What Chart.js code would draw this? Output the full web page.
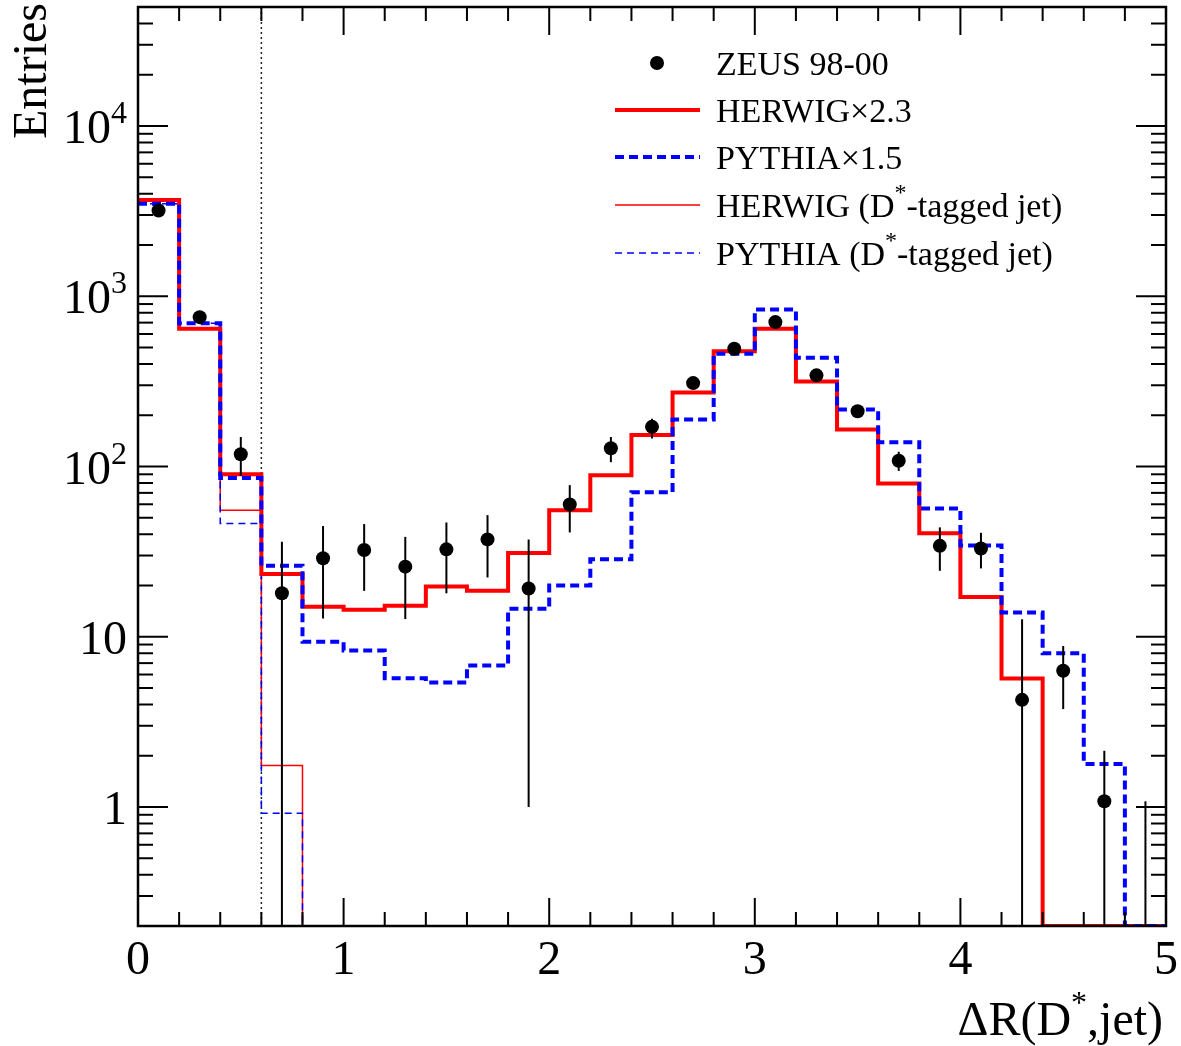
<!DOCTYPE html>
<html>
<head>
<meta charset="utf-8">
<script src="https://cdn.jsdelivr.net/npm/chart.js@4.4.0/dist/chart.umd.min.js"></script>
<style>
  html, body { margin: 0; padding: 0; background: #fff; }
  #wrap { width: 1181px; height: 1046px; }
</style>
</head>
<body>
<div id="wrap"><canvas id="grafico" width="1181" height="1046"></canvas></div>
<script>
// =================== DATOS ===================
// bordes de los bins (0 .. 5, paso 0.2)
const binEdges = [0, 0.2, 0.4, 0.6, 0.8, 1.0, 1.2, 1.4, 1.6, 1.8, 2.0, 2.2, 2.4,
  2.6, 2.8, 3.0, 3.2, 3.4, 3.6, 3.8, 4.0, 4.2, 4.4, 4.6, 4.8, 5.0];
const binCenters = [0.1, 0.3, 0.5, 0.7, 0.9, 1.1, 1.3, 1.5, 1.7, 1.9, 2.1, 2.3, 2.5,
  2.7, 2.9, 3.1, 3.3, 3.5, 3.7, 3.9, 4.1, 4.3, 4.5, 4.7, 4.9];

// ZEUS 98-00 (puntos con errores)
const zeusVal = [3190, 754, 118, 18.0, 28.9, 32.3, 25.8, 32.6, 37.3, 19.2, 59.8, 128, 171,
  309, 492, 705, 343, 211, 108, 34.2, 33.0, 4.26, 6.32, 1.08, 0];
const zeusErrUp = [55, 28, 31, 18.1, 15.8, 13.6, 12.8, 14.3, 14.5, 18.1, 17.9, 21, 20,
  22, 28, 35, 25, 18, 14, 9.7, 7.8, 8.4, 2.5, 1.06, 1.08];
const zeusErrDn = [55, 28, 30, 18.0, 16.1, 13.7, 13.1, 14.6, 15.0, 18.2, 18.8, 22, 25,
  22, 28, 35, 25, 18, 13.8, 9.8, 7.8, 4.26, 2.56, 1.08, 0];

// HERWIG x2.3 y PYTHIA x1.5
const herwigVal = [3680, 645, 90.1, 23.4, 15.0, 14.4, 15.2, 19.7, 18.6, 31.0, 55.4, 88.9, 153,
  272, 476, 645, 316, 165, 79.5, 40.5, 17.1, 5.68, 0, 0, 0];
const pythiaVal = [3490, 695, 85.7, 26.1, 9.36, 8.29, 5.71, 5.38, 6.77, 14.6, 20.0, 28.5, 70.7,
  189, 460, 837, 436, 216, 139, 56.7, 34.4, 13.9, 8.0, 1.79, 0];

// D*-tagged jet
const herwigTagVal = [3680, 645, 55.4, 1.75, 0, 0, 0, 0, 0, 0, 0, 0, 0,
  0, 0, 0, 0, 0, 0, 0, 0, 0, 0, 0, 0];
const pythiaTagVal = [3490, 695, 46.3, 0.92, 0, 0, 0, 0, 0, 0, 0, 0, 0,
  0, 0, 0, 0, 0, 0, 0, 0, 0, 0, 0, 0];

const xTicks = [0, 1, 2, 3, 4, 5];
const yTickLabels = [
  { v: 1, base: '1', sup: '' },
  { v: 10, base: '10', sup: '' },
  { v: 100, base: '10', sup: '2' },
  { v: 1000, base: '10', sup: '3' },
  { v: 10000, base: '10', sup: '4' }
];
const corteDR = 0.6;

const Y_MIN = 0.2, Y_MAX = 50000;
const FUENTE = '"Liberation Serif", "DejaVu Serif", serif';

// =================== UTILIDADES ===================
/** Convierte un histograma a puntos escalonados; los bins vacíos se pegan al fondo como en ROOT */
function aEscalones(valores) {
  const pts = valores.map((v, i) => ({ x: binEdges[i], y: v > 0 ? v : Y_MIN }));
  const ultimo = valores[valores.length - 1];
  pts.push({ x: binEdges[binEdges.length - 1], y: ultimo > 0 ? ultimo : Y_MIN });
  return pts;
}

function linea(ctx, x1, y1, x2, y2) {
  ctx.beginPath();
  ctx.moveTo(x1, y1);
  ctx.lineTo(x2, y2);
  ctx.stroke();
}

// texto con superíndice: partes = [[texto, esSup], ...]
function anchoPartes(ctx, partes, tam, tamSup) {
  let w = 0;
  partes.forEach(([t, sup]) => {
    ctx.font = `${sup ? tamSup : tam}px ${FUENTE}`;
    w += ctx.measureText(t).width;
  });
  return w;
}
function textoPartes(ctx, partes, x, y, tam, tamSup, subida) {
  ctx.textAlign = 'left';
  ctx.textBaseline = 'alphabetic';
  partes.forEach(([t, sup]) => {
    ctx.font = `${sup ? tamSup : tam}px ${FUENTE}`;
    ctx.fillText(t, x, sup ? y - subida : y);
    x += ctx.measureText(t).width;
  });
}

// =================== PLUGINS ===================
const marcoRoot = {
  id: 'marcoRoot',
  beforeDatasetsDraw(chart) {
    const ctx = chart.ctx;
    const { top, bottom } = chart.chartArea;
    const px = chart.scales.x.getPixelForValue(corteDR);
    ctx.save();
    ctx.strokeStyle = '#222';
    ctx.lineWidth = 1.5;
    ctx.setLineDash([2, 3]);
    linea(ctx, px, top, px, bottom);
    ctx.restore();
  },
  afterDatasetsDraw(chart) {
    // barras de error de ZEUS
    const ctx = chart.ctx;
    const xs = chart.scales.x, ys = chart.scales.y;
    const { top, bottom } = chart.chartArea;
    ctx.save();
    ctx.strokeStyle = '#000';
    ctx.lineWidth = 2;
    binCenters.forEach((c, i) => {
      const hi = zeusVal[i] + zeusErrUp[i];
      const lo = zeusVal[i] - zeusErrDn[i];
      const px = xs.getPixelForValue(c);
      const yHi = Math.max(top, ys.getPixelForValue(hi));
      const yLo = lo > Y_MIN ? ys.getPixelForValue(lo) : bottom;
      linea(ctx, px, yHi, px, yLo);
    });
    ctx.restore();
  },
  afterDraw(chart) {
    const ctx = chart.ctx;
    const xs = chart.scales.x, ys = chart.scales.y;
    const { left, right, top, bottom } = chart.chartArea;
    ctx.save();
    ctx.strokeStyle = '#000';
    ctx.fillStyle = '#000';
    ctx.setLineDash([]);

    // ticks eje x (abajo y arriba)
    ctx.lineWidth = 2;
    for (let i = 0; i <= 25; i++) {
      const px = xs.getPixelForValue(binEdges[i]);
      const len = i % 5 === 0 ? 28 : 14;
      linea(ctx, px, bottom, px, bottom - len);
      linea(ctx, px, top, px, top + len);
    }
    // ticks eje y log (izquierda y derecha)
    for (let n = -1; n <= 4; n++) {
      for (let k = 1; k <= 9; k++) {
        const v = k * Math.pow(10, n);
        if (v < Y_MIN || v > Y_MAX) continue;
        const py = ys.getPixelForValue(v);
        const len = k === 1 ? 30 : 15;
        linea(ctx, left, py, left + len, py);
        linea(ctx, right, py, right - len, py);
      }
    }
    // marco
    ctx.lineWidth = 2.5;
    ctx.strokeRect(left, top, right - left, bottom - top);

    // etiquetas eje y
    yTickLabels.forEach(t => {
      const py = ys.getPixelForValue(t.v) + 17;
      const partes = t.sup ? [[t.base, false], [t.sup, true]] : [[t.base, false]];
      const w = anchoPartes(ctx, partes, 48, 32);
      textoPartes(ctx, partes, 127 - w, py, 48, 32, 20);
    });
    // etiquetas eje x
    ctx.font = `48px ${FUENTE}`;
    ctx.textAlign = 'center';
    ctx.textBaseline = 'alphabetic';
    xTicks.forEach(v => {
      ctx.fillText(String(v), xs.getPixelForValue(v), 974);
    });

    // título eje x
    const tituloX = [['ΔR(D', false], ['*', true], [',jet)', false]];
    const wx = anchoPartes(ctx, tituloX, 48, 32);
    textoPartes(ctx, tituloX, 1163 - wx, 1035, 48, 32, 22);

    // título eje y
    ctx.save();
    ctx.translate(46, 3);
    ctx.rotate(-Math.PI / 2);
    ctx.font = `48px ${FUENTE}`;
    ctx.textAlign = 'right';
    ctx.textBaseline = 'alphabetic';
    ctx.fillText('Entries', 0, 0);
    ctx.restore();

    // leyenda
    const filas = [
      { y: 63, tipo: 'punto', partes: [['ZEUS 98-00', false]] },
      { y: 110, tipo: 'linea', color: '#ff0000', ancho: 4, dash: [], partes: [['HERWIG×2.3', false]] },
      { y: 157, tipo: 'linea', color: '#0000ff', ancho: 4, dash: [9, 5], partes: [['PYTHIA×1.5', false]] },
      { y: 205, tipo: 'linea', color: '#ff0000', ancho: 1.5, dash: [], partes: [['HERWIG (D', false], ['*', true], ['-tagged jet)', false]] },
      { y: 253, tipo: 'linea', color: '#0000ff', ancho: 1.5, dash: [7, 5], partes: [['PYTHIA (D', false], ['*', true], ['-tagged jet)', false]] }
    ];
    filas.forEach(f => {
      if (f.tipo === 'punto') {
        ctx.beginPath();
        ctx.arc(657, f.y, 7, 0, Math.PI * 2);
        ctx.fill();
      } else {
        ctx.save();
        ctx.strokeStyle = f.color;
        ctx.lineWidth = f.ancho;
        ctx.setLineDash(f.dash);
        linea(ctx, 615, f.y, 700, f.y);
        ctx.restore();
      }
      textoPartes(ctx, f.partes, 716, f.y + 12, 34, 24, 17);
    });
    ctx.restore();
  }
};

// =================== GRÁFICO ===================
document.addEventListener('DOMContentLoaded', () => {
  const canvas = document.getElementById('grafico');

  const puntosZeus = binCenters.map((c, i) => ({ x: c, y: zeusVal[i] > 0 ? zeusVal[i] : null }));

  new Chart(canvas, {
    type: 'line',
    data: {
      datasets: [
        {
          type: 'scatter',
          label: 'ZEUS 98-00',
          data: puntosZeus,
          pointRadius: 7,
          pointHoverRadius: 7,
          pointBackgroundColor: '#000',
          pointBorderWidth: 0,
          showLine: false,
          order: 0
        },
        {
          label: 'PYTHIA×1.5',
          data: aEscalones(pythiaVal),
          stepped: 'before',
          borderColor: '#0000ff',
          borderWidth: 4,
          borderDash: [9, 5],
          pointRadius: 0,
          fill: false,
          order: 1
        },
        {
          label: 'HERWIG×2.3',
          data: aEscalones(herwigVal),
          stepped: 'before',
          borderColor: '#ff0000',
          borderWidth: 4,
          pointRadius: 0,
          fill: false,
          order: 2
        },
        {
          label: 'PYTHIA (D*-tagged jet)',
          data: aEscalones(pythiaTagVal),
          stepped: 'before',
          borderColor: '#0000ff',
          borderWidth: 1.5,
          borderDash: [7, 5],
          pointRadius: 0,
          fill: false,
          order: 3
        },
        {
          label: 'HERWIG (D*-tagged jet)',
          data: aEscalones(herwigTagVal),
          stepped: 'before',
          borderColor: '#ff0000',
          borderWidth: 1.5,
          pointRadius: 0,
          fill: false,
          order: 4
        }
      ]
    },
    options: {
      responsive: false,
      animation: false,
      devicePixelRatio: 1,
      layout: { padding: { top: 5, right: 15, left: 0, bottom: 0 } },
      plugins: {
        legend: { display: false },
        tooltip: { enabled: false },
        title: { display: false }
      },
      scales: {
        x: {
          type: 'linear',
          min: 0,
          max: 5,
          grid: { display: false },
          border: { display: false },
          ticks: { display: false },
          afterFit: s => { s.height = 120; }
        },
        y: {
          type: 'logarithmic',
          min: Y_MIN,
          max: Y_MAX,
          grid: { display: false },
          border: { display: false },
          ticks: { display: false },
          afterFit: s => { s.width = 138; }
        }
      }
    },
    plugins: [marcoRoot]
  });
});
</script>
</body>
</html>
